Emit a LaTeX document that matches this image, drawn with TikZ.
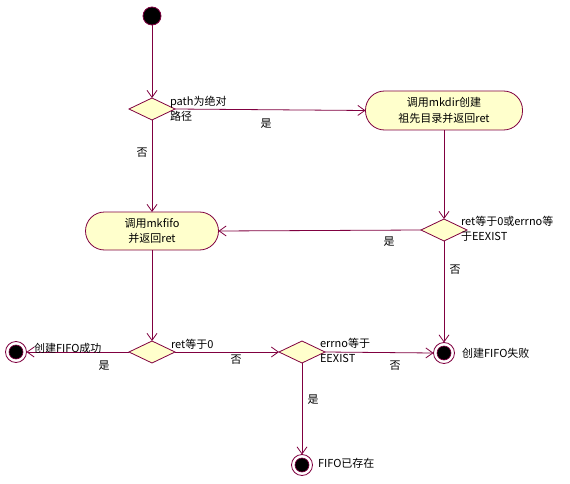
\documentclass[tikz,border=0pt]{standalone}
\usepackage{fontspec}
\setmainfont{Noto Sans CJK SC}
\usetikzlibrary{shapes.geometric,arrows.meta}
\definecolor{lc}{RGB}{128,0,64}
\definecolor{fc}{RGB}{255,255,204}
\begin{document}
\begin{tikzpicture}[x=1pt,y=-1pt,
  every node/.style={font=\fontsize{11}{15.5}\selectfont, inner sep=0pt, outer sep=0pt},
  flow/.style={draw=lc, line width=0.8pt, -{Straight Barb[length=7pt,width=10pt]}},
  plain/.style={draw=lc, line width=0.8pt},
  dec/.style={diamond, draw=lc, fill=fc, line width=0.8pt, minimum width=46pt, minimum height=22pt},
  act/.style={rectangle, rounded corners=19pt, draw=lc, fill=fc, line width=0.8pt, align=center},
  startnode/.style={circle, fill=black, draw=lc, line width=0.8pt, minimum size=18pt},
  endout/.style={circle, fill=white, draw=lc, line width=0.8pt, minimum size=21pt},
  endin/.style={circle, fill=black, draw=lc, line width=0.6pt, minimum size=14pt},
  lbl/.style={align=left}]
\useasboundingbox[fill=white] (0,0) rectangle (570,484);

\node[startnode] (s) at (152,16) {};
\node[dec] (d1) at (152,109) {};
\node[act, minimum width=157pt, minimum height=39pt] (a1) at (444,110.5) {调用mkdir创建\\祖先目录并返回ret};
\node[dec] (d2) at (444,230) {};
\node[act, minimum width=133pt, minimum height=38pt] (a2) at (152,231) {调用mkfifo\\并返回ret};
\node[dec] (d3) at (152,352) {};
\node[dec] (d4) at (302,352) {};
\node[endout] (e1) at (16,352) {};
\node[endin] (e1i) at (e1.center) {};
\node[endout] (e2) at (444,353) {};
\node[endin] (e2i) at (e2.center) {};
\node[endout] (e3) at (302,465) {};
\node[endin] (e3i) at (e3.center) {};

\draw[flow] (s) -- (d1.north);
\draw[flow] (d1.east) -- (a1.west);
\draw[flow] (a1.south) -- (d2.north);
\draw[flow] (d2.west) -- (a2.east);
\draw[flow] (d2.south) -- (e2.north);
\draw[flow] (d1.south) -- (a2.north);
\draw[flow] (a2.south) -- (d3.north);
\draw[flow] (d3.west) -- (e1.east);
\draw[flow] (d3.east) -- (d4.west);
\draw[flow] (d4.east) -- (e2.west);
\draw[flow] (d4.south) -- (e3.north);

\node[lbl, anchor=north west] (l1) at (170,96) {path为绝对\\路径};
\node (l2) at (266,124) {是};
\node (l3) at (142,153) {否};
\node[lbl, anchor=north west] (l4) at (461,216) {ret等于0或errno等\\于EEXIST};
\node (l5) at (389,242) {是};
\node (l6) at (455,270) {否};
\node[anchor=west] (l7) at (462,353) {创建FIFO失败};
\node[anchor=west] (l8) at (34,348) {创建FIFO成功};
\node (l9) at (104,366) {是};
\node[anchor=west] (l10) at (171,344) {ret等于0};
\node (l11) at (236,360) {否};
\node[lbl, anchor=north west] (l12) at (320,338) {errno等于\\EEXIST};
\node (l13) at (395,366) {否};
\node (l14) at (313,400) {是};
\node[anchor=west] (l15) at (318,463) {FIFO已存在};
\end{tikzpicture}
\end{document}
